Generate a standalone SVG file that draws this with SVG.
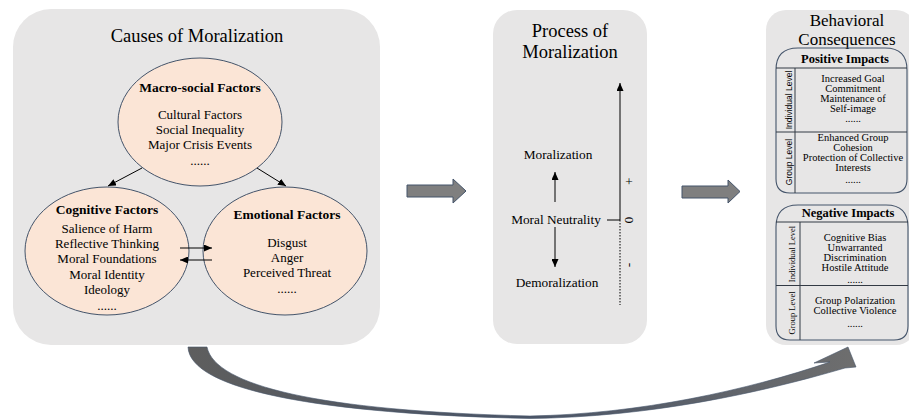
<svg xmlns="http://www.w3.org/2000/svg" width="909" height="420" viewBox="0 0 909 420">
<defs>
<style>
.panel{fill:#e7e6e6;stroke:none}
.ell{fill:#fbe5d6;stroke:#44546a;stroke-width:1}
.t{font-family:"Liberation Serif","Times New Roman",serif;fill:#000;text-anchor:middle}
.title{font-size:18.5px}
.hb{font-size:13.5px;font-weight:bold}
.e{font-size:13px}
.m{font-size:13.3px}
.bh{font-size:12.5px;font-weight:bold}
.bt{font-size:10.5px}
.rs{font-family:"Liberation Sans",Arial,sans-serif;font-size:8.5px;fill:#000;text-anchor:middle}
.rt{font-size:8.5px}
.box{fill:none;stroke:#44546a;stroke-width:1.1}
.ln{stroke:#333a44;stroke-width:1;fill:none}
.con{stroke:#000;stroke-width:1;fill:none}
.big{fill:#7f7f7f;stroke:#44546a;stroke-width:1}
</style>
<marker id="ah" markerUnits="userSpaceOnUse" markerWidth="8" markerHeight="7" refX="8" refY="3.5" orient="auto">
<path d="M0,0 L8,3.5 L0,7 z" fill="#000"/>
</marker>
<linearGradient id="cg" x1="0" y1="0" x2="1" y2="0">
<stop offset="0" stop-color="#5e5e5e"/>
<stop offset="0.5" stop-color="#4a5466"/>
<stop offset="1" stop-color="#6e6e6e"/>
</linearGradient>
</defs>
<rect width="909" height="420" fill="#ffffff"/>

<g id="causes">
<rect class="panel" x="13" y="9" width="367" height="336" rx="38" ry="38"/>
<text class="t title" x="197" y="42">Causes of Moralization</text>
</g>
<g id="macro">
<ellipse class="ell" cx="200" cy="122" rx="82" ry="64"/>
<text class="t hb" x="200" y="92">Macro-social Factors</text>
<text class="t e" x="200" y="119">Cultural Factors</text>
<text class="t e" x="200" y="134">Social Inequality</text>
<text class="t e" x="200" y="149">Major Crisis Events</text>
<text class="t e" x="200" y="165">......</text>
</g>
<g id="cognitive">
<ellipse class="ell" cx="107" cy="251" rx="82" ry="64"/>
<text class="t hb" x="107" y="214">Cognitive Factors</text>
<text class="t e" x="107" y="233">Salience of Harm</text>
<text class="t e" x="107" y="248">Reflective Thinking</text>
<text class="t e" x="107" y="263">Moral Foundations</text>
<text class="t e" x="107" y="279">Moral Identity</text>
<text class="t e" x="107" y="294">Ideology</text>
<text class="t e" x="107" y="310">......</text>
</g>
<g id="emotional">
<ellipse class="ell" cx="285" cy="251" rx="82" ry="64"/>
<text class="t hb" x="287" y="219">Emotional Factors</text>
<text class="t e" x="287" y="247">Disgust</text>
<text class="t e" x="287" y="262">Anger</text>
<text class="t e" x="287" y="277">Perceived Threat</text>
<text class="t e" x="287" y="293">......</text>
</g>

<g id="process">
<rect class="panel" x="493" y="10" width="154" height="334" rx="24" ry="24"/>
<text class="t title" x="570" y="37">Process of</text>
<text class="t title" x="570" y="58">Moralization</text>
<text class="t m" x="558" y="159">Moralization</text>
<text class="t m" x="556" y="224">Moral Neutrality</text>
<text class="t m" x="557" y="287">Demoralization</text>
<text class="t m" x="629" y="186">+</text>
<text class="t m" transform="translate(625,220) rotate(90)" x="0" y="0">0</text>
<text class="t m" transform="translate(626,265) rotate(90)" x="0" y="0">-</text>
</g>

<g id="consequences">
<rect class="panel" x="766" y="10" width="150" height="335" rx="20" ry="20"/>
<text class="t" style="font-size:17px" x="847" y="25.5">Behavioral</text>
<text class="t" style="font-size:17px" x="847" y="45">Consequences</text>
</g>
<g id="positive">
<path class="box" d="M798,48 H885 Q907,48 907,70 V179 Q907,193 893,193 H790 Q776,193 776,179 V70 Q776,48 798,48 Z"/>
<line class="ln" x1="776" y1="68" x2="907" y2="68"/>
<line class="ln" x1="795" y1="68" x2="795" y2="193"/>
<line class="ln" x1="776" y1="132" x2="907" y2="132"/>
<text class="t bh" x="845" y="63">Positive Impacts</text>
<text class="rs" transform="translate(792,100) rotate(-90)">Individual Level</text>
<text class="rs" transform="translate(792,162) rotate(-90)">Group Level</text>
<text class="t bt" x="853" y="82">Increased Goal</text>
<text class="t bt" x="853" y="92">Commitment</text>
<text class="t bt" x="853" y="102">Maintenance of</text>
<text class="t bt" x="853" y="112">Self-image</text>
<text class="t bt" x="853" y="122">......</text>
<text class="t bt" x="853" y="141">Enhanced Group</text>
<text class="t bt" x="853" y="151">Cohesion</text>
<text class="t bt" x="853" y="161">Protection of Collective</text>
<text class="t bt" x="853" y="171">Interests</text>
<text class="t bt" x="853" y="183">......</text>
</g>
<g id="negative">
<path class="box" d="M798,205 H886 Q908,205 908,227 V326 Q908,340 894,340 H790 Q776,340 776,326 V227 Q776,205 798,205 Z"/>
<line class="ln" x1="776" y1="222" x2="908" y2="222"/>
<line class="ln" x1="800" y1="222" x2="800" y2="340"/>
<line class="ln" x1="776" y1="285.5" x2="908" y2="285.5"/>
<text class="t bh" x="848" y="217">Negative Impacts</text>
<text class="t rt" transform="translate(795,254) rotate(-90)">Individual Level</text>
<text class="t rt" transform="translate(795,313) rotate(-90)">Group Level</text>
<text class="t bt" x="855" y="240.5">Cognitive Bias</text>
<text class="t bt" x="855" y="250.5">Unwarranted</text>
<text class="t bt" x="855" y="260.5">Discrimination</text>
<text class="t bt" x="855" y="270.5">Hostile Attitude</text>
<text class="t bt" x="855" y="283">......</text>
<text class="t bt" x="855" y="303.5">Group Polarization</text>
<text class="t bt" x="855" y="314">Collective Violence</text>
<text class="t bt" x="855" y="327">......</text>
</g>

<g id="connectors">
<line class="con" x1="142" y1="168" x2="108" y2="186" marker-end="url(#ah)"/>
<line class="con" x1="257" y1="168" x2="286" y2="186" marker-end="url(#ah)"/>
<line class="con" x1="180" y1="248" x2="212" y2="248" marker-end="url(#ah)"/>
<line class="con" x1="212" y1="260" x2="180" y2="260" marker-end="url(#ah)"/>
<line class="con" x1="620" y1="220" x2="620" y2="83" marker-end="url(#ah)"/>
<line class="con" x1="620" y1="220" x2="620" y2="305" stroke-dasharray="1.5,1.5"/>
<line class="con" x1="607" y1="220" x2="620" y2="220"/>
<line class="con" x1="555" y1="202" x2="555" y2="172" marker-end="url(#ah)"/>
<line class="con" x1="555" y1="227" x2="555" y2="267" marker-end="url(#ah)"/>
<path class="big" d="M407,185 H453 V179 L466,191 L453,203 V197 H407 Z"/>
<path class="big" d="M682,186 H728 V180 L740,191.5 L728,203 V198 H682 Z"/>
<path d="M188,347 L207,347 C215,386 320,411 530,416 C640,414 748,390 830,362 L814,363 L848,347 L856,367 L845,368 C760,393 650,417 530,418.5 C320,414 190,390 188,347 Z" fill="url(#cg)" stroke="#44546a" stroke-width="0.6"/>
</g>
</svg>
